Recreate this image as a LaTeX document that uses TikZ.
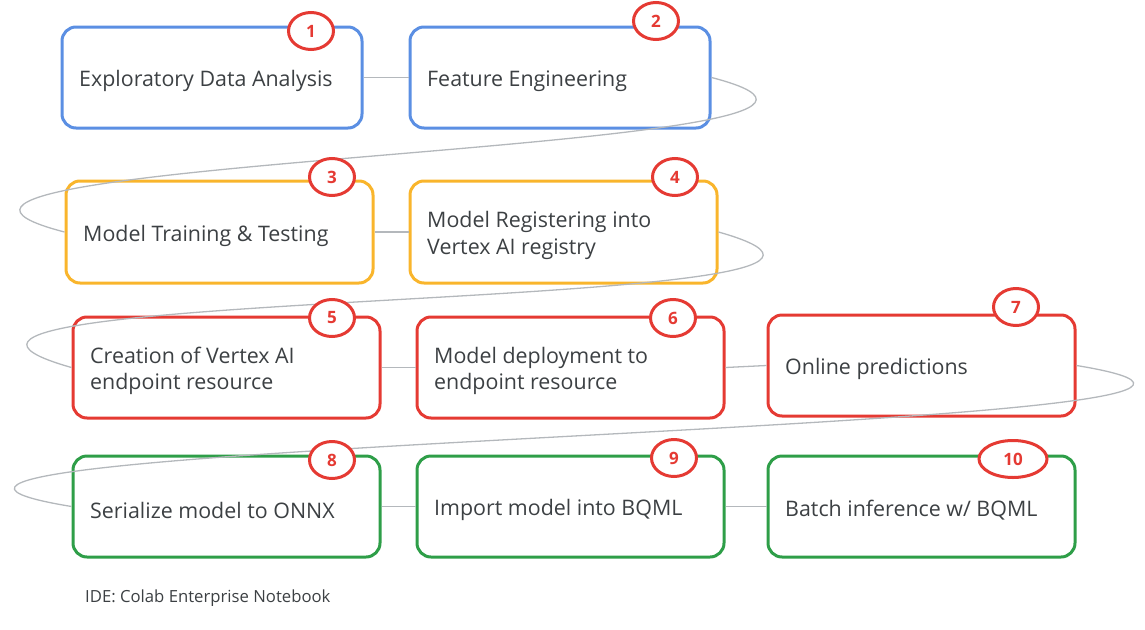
\documentclass[tikz,border=0pt]{standalone}
\usepackage{fontspec}
\setmainfont{Open Sans}
\usetikzlibrary{shapes.geometric}
\definecolor{gblue}{HTML}{5B8FE3}
\definecolor{gyellow}{HTML}{F9B52C}
\definecolor{gred}{HTML}{E53A33}
\definecolor{ggreen}{HTML}{2E9E48}
\definecolor{txt}{HTML}{3C4043}
\definecolor{conn}{HTML}{B4B8BC}
\begin{document}
\begin{tikzpicture}[x=1pt,y=-1pt,
  stepbox/.style={line width=3pt, rounded corners=14pt, minimum height=101pt,
    inner sep=0pt},
  narrowbox/.style={stepbox, minimum width=300pt},
  widebox/.style={stepbox, minimum width=307pt},
  boxtext/.style={inner sep=0pt, align=left, text=txt, anchor=west,
    font=\fontsize{21.4}{26.5}\selectfont},
  badge/.style={ellipse, draw=gred, line width=3pt, fill=white, text=gred,
    minimum width=45pt, minimum height=37pt, inner sep=0pt,
    font=\fontsize{17}{17}\selectfont\bfseries},
  link/.style={draw=conn, line width=1.3pt}]
\useasboundingbox (0,0) rectangle (1145,629);
% boxes
\node[narrowbox, draw=gblue] (b1) at (212,77.5) {};
\node[narrowbox, draw=gblue] (b2) at (560,77.5) {};
\node[widebox, draw=gyellow, minimum height=102pt] (b3) at (219.5,232) {};
\node[widebox, draw=gyellow, minimum height=102pt] (b4) at (563.5,232) {};
\node[widebox, draw=gred] (b5) at (226.5,367.5) {};
\node[widebox, draw=gred] (b6) at (570.5,367.5) {};
\node[widebox, draw=gred] (b7) at (921.5,365.5) {};
\node[widebox, draw=ggreen] (b8) at (226.5,506.5) {};
\node[widebox, draw=ggreen] (b9) at (570.5,506.5) {};
\node[widebox, draw=ggreen] (b10) at (921.5,506.5) {};
% texts
\node[boxtext] (t1) at ([xshift=18.5pt,yshift=-3.5pt]b1.west) {Exploratory Data Analysis};
\node[boxtext] (t2) at ([xshift=18.5pt,yshift=-3.5pt]b2.west) {Feature Engineering};
\node[boxtext] (t3) at ([xshift=18.5pt,yshift=-3.5pt]b3.west) {Model Training \& Testing};
\node[boxtext] (t4) at ([xshift=18.5pt,yshift=-3.5pt]b4.west) {Model Registering into\\Vertex AI registry};
\node[boxtext] (t5) at ([xshift=18.5pt,yshift=-3.5pt]b5.west) {Creation of Vertex AI\\endpoint resource};
\node[boxtext] (t6) at ([xshift=18.5pt,yshift=-3.5pt]b6.west) {Model deployment to\\endpoint resource};
\node[boxtext] (t7) at ([xshift=18.5pt,yshift=-3.5pt]b7.west) {Online predictions};
\node[boxtext] (t8) at ([xshift=18.5pt,yshift=-3.5pt]b8.west) {Serialize model to ONNX};
\node[boxtext] (t9) at ([xshift=18.5pt,yshift=-3.5pt]b9.west) {Import model into BQML};
\node[boxtext] (t10) at ([xshift=18.5pt,yshift=-3.5pt]b10.west) {Batch inference w/ BQML};
% connectors
\draw[link] (b1.east) -- (b2.west);
\draw[link] (b2.east) .. controls +(290,75) and +(-290,-75) .. (b3.west);
\draw[link] (b3.east) -- (b4.west);
\draw[link] (b4.east) .. controls +(290,82) and +(-290,-82) .. (b5.west);
\draw[link] (b5.east) -- (b6.west);
\draw[link] (b6.east) -- (b7.west);
\draw[link] (b7.east) .. controls +(395,65) and +(-395,-65) .. (b8.west);
\draw[link] (b8.east) -- (b9.west);
\draw[link] (b9.east) -- (b10.west);
% badges
\node[badge] (n1) at (311,31) {1};
\node[badge] (n2) at (656,21) {2};
\node[badge] (n3) at (332,177) {3};
\node[badge] (n4) at (675,177) {4};
\node[badge] (n5) at (332,318) {5};
\node[badge] (n6) at (673,318) {6};
\node[badge] (n7) at (1016,307) {7};
\node[badge] (n8) at (332,460) {8};
\node[badge] (n9) at (674,458) {9};
\node[badge, minimum width=68pt] (n10) at (1013,459) {10};
% footer
\node[anchor=base west, inner sep=0pt, text=txt, font=\fontsize{16.7}{20}\selectfont] (ide) at (85,602) {IDE: Colab Enterprise Notebook};
\end{tikzpicture}
\end{document}
